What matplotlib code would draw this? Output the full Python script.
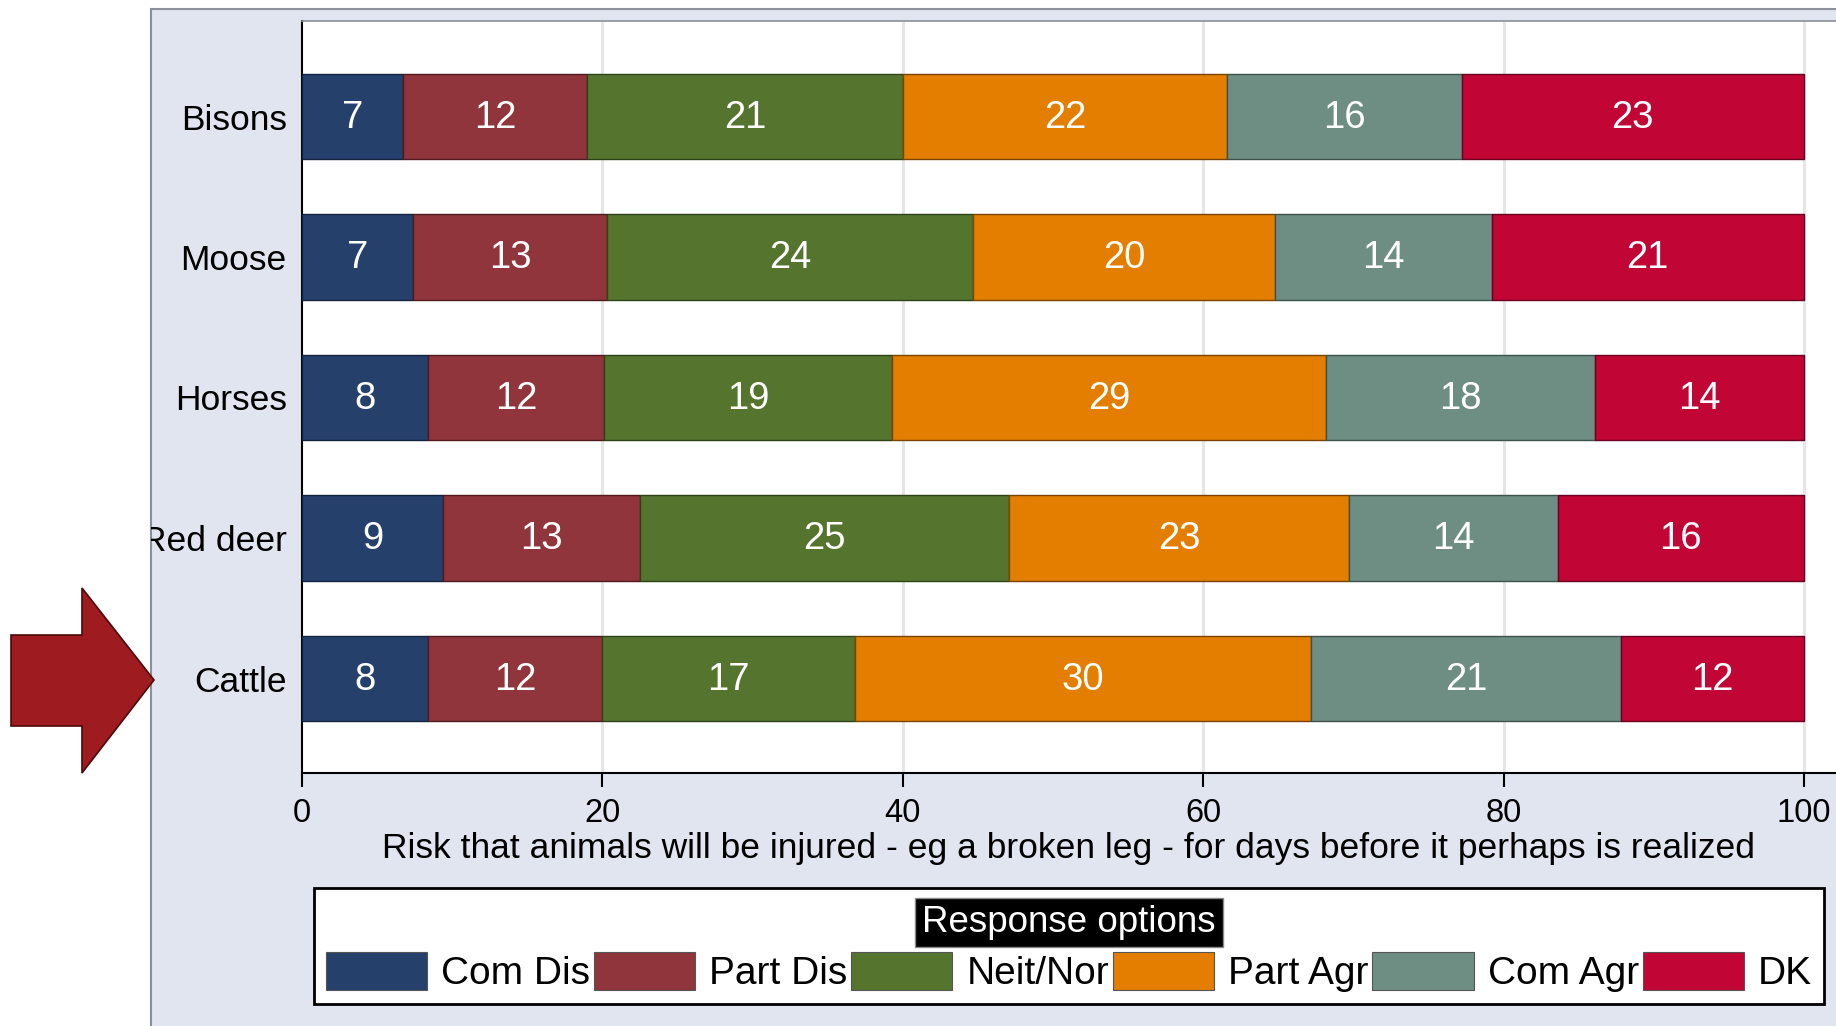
import matplotlib.pyplot as plt
from matplotlib.patches import Rectangle, Polygon
from matplotlib.transforms import Bbox, TransformedBbox

plt.rcParams['font.family'] = ['Liberation Sans', 'DejaVu Sans']

animals = ["Bisons", "Moose", "Horses", "Red deer", "Cattle"]
responses = ["Com Dis", "Part Dis", "Neit/Nor", "Part Agr", "Com Agr", "DK"]
com_dis = [6.7, 7.4, 8.4, 9.4, 8.4]
part_dis = [12.3, 12.9, 11.7, 13.1, 11.6]
neit_nor = [21.0, 24.4, 19.2, 24.6, 16.8]
part_agr = [21.6, 20.1, 28.9, 22.6, 30.4]
com_agr = [15.6, 14.4, 17.9, 13.9, 20.6]
dk = [22.8, 20.8, 13.9, 16.4, 12.2]
series = [com_dis, part_dis, neit_nor, part_agr, com_agr, dk]
colors = ["#26406c", "#90353b", "#55752f", "#e37e00", "#6e8e84", "#c10534"]
edges = ["#14243f", "#4f1a1e", "#2e4218", "#7a4400", "#3d524c", "#6a0020"]
xticks = [0, 20, 40, 60, 80, 100]
xtitle = "Risk that animals will be injured - eg a broken leg - for days before it perhaps is realized"

W, H = 1836, 1026
fig = plt.figure(figsize=(W / 100, H / 100), dpi=100, facecolor="white")

# graph region background
fig.add_artist(Rectangle((151 / W, -0.01), 1.0, 1 - 9 / H + 0.01, transform=fig.transFigure,
                         facecolor="#e1e5f0", edgecolor="#8a8f99", lw=1.5, zorder=0))

ax = fig.add_axes([302 / W, 1 - 773 / H, 1 - 302 / W, (773 - 21) / H])
ax.set_facecolor("white")

ypos = list(range(len(animals)))
left = [0.0] * len(animals)
for vals, c, ec, name in zip(series, colors, edges, responses):
    bars = ax.barh(ypos, vals, left=left, height=0.605, color=c, edgecolor=ec,
                   linewidth=1, label=name, zorder=3)
    for b, v in zip(bars, vals):
        ax.text(b.get_x() + b.get_width() / 2, b.get_y() + b.get_height() / 2 + 0.01,
                f"{v:.0f}", color="white", fontsize=27.5, ha="center", va="center", zorder=4)
    left = [l + v for l, v in zip(left, vals)]

ax.set_xlim(0, 100 * (W - 302) / (1804 - 302))
ax.set_ylim((773 - 116.5) / 140.5, -(116.5 - 21) / 140.5)
ax.set_xticks(xticks)
ax.set_xticklabels([str(t) for t in xticks])
ax.set_yticks(ypos)
ax.set_yticklabels(animals)
ax.tick_params(axis="x", length=10, width=1.5, pad=8, labelsize=23.5)
ax.tick_params(axis="y", length=0, pad=11, labelsize=25.5)
for t in xticks[1:]:
    ax.axvline(t, color="#e6e6e6", lw=2.2, zorder=1)

ax.spines["right"].set_visible(False)
ax.spines["top"].set_color("#8a8f99")
ax.spines["top"].set_linewidth(1.2)
ax.spines["left"].set_linewidth(1.5)
ax.spines["bottom"].set_linewidth(1.5)
ax.set_xlabel(xtitle, fontsize=25.5, labelpad=2)

clip = TransformedBbox(Bbox([[151 / W, 0], [1, 1]]), fig.transFigure)
for lbl in ax.get_yticklabels():
    lbl.set_clip_box(clip)
    lbl.set_clip_on(True)

# arrow pointing at Cattle
pts = [(11, 635), (82, 635), (82, 588), (154, 680), (82, 773), (82, 726), (11, 726)]
fig.add_artist(Polygon([(x / W, 1 - y / H) for x, y in pts], closed=True,
                       transform=fig.transFigure, facecolor="#9e1b1f",
                       edgecolor="#4d0a0a", lw=1.2, zorder=2))

# legend frame drawn separately so the title can sit lower
fig.add_artist(Rectangle((314 / W, 22 / H), (1824 - 314) / W, 116 / H, transform=fig.transFigure,
                         facecolor="white", edgecolor="black", lw=2, zorder=1))
handles = [Rectangle((0, 0), 1, 1, facecolor=c, edgecolor="#555555", lw=0.8) for c in colors]
leg = fig.legend(handles, responses, ncol=6, loc="lower left",
                 bbox_to_anchor=(314 / W, 22 / H, (1824 - 314) / W, 116 / H),
                 mode="expand", title="Response options", fontsize=28, title_fontsize=26.5,
                 frameon=False, handlelength=2.6, handleheight=1.1, handletextpad=0.37,
                 borderaxespad=0, borderpad=0.3, columnspacing=0.2, labelspacing=0.32)
leg.get_title().set_color("white")
leg.get_title().set_bbox(dict(facecolor="black", edgecolor="#888888", pad=5))

fig.savefig("out.png", dpi=100, facecolor="white")
